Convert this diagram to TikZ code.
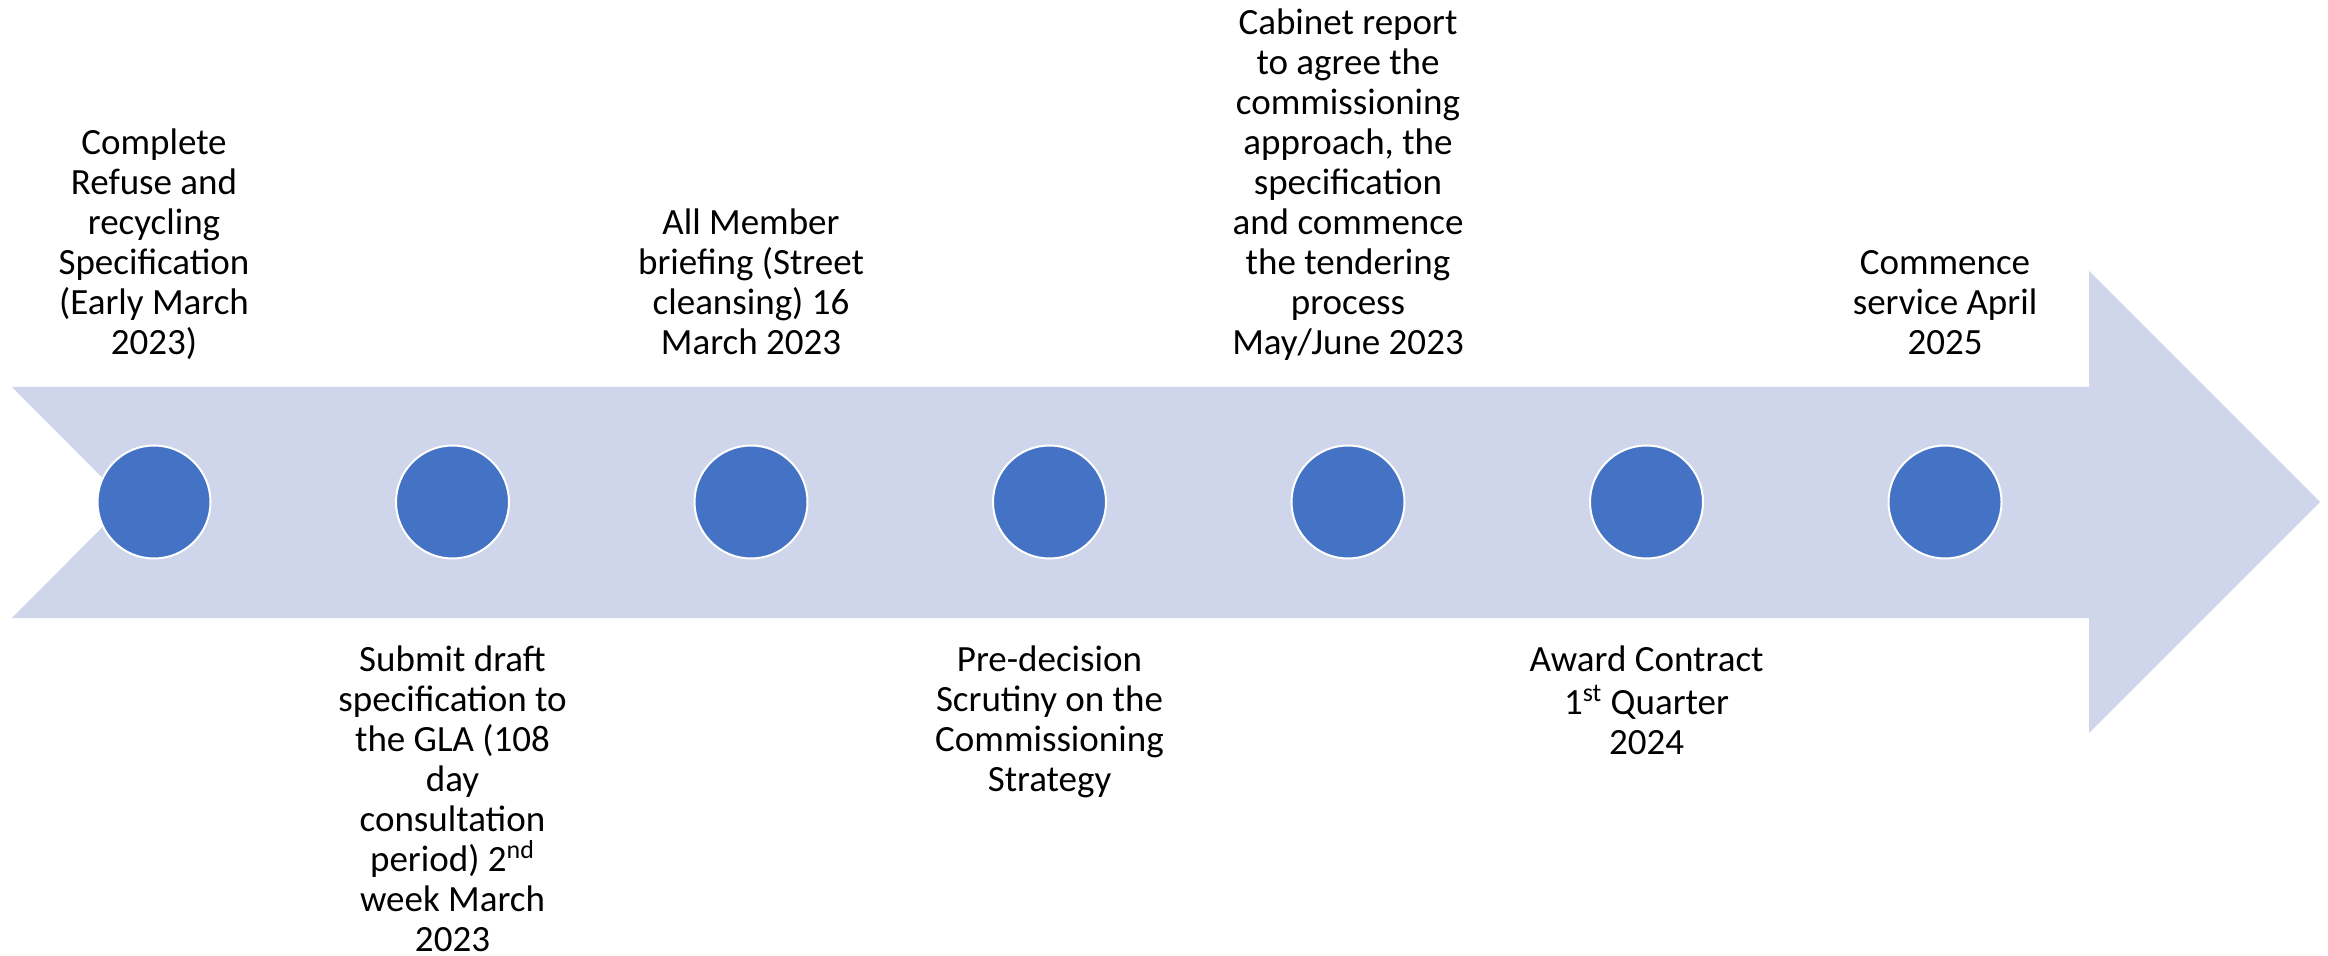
\documentclass[tikz,border=0pt]{standalone}
\usepackage{fontspec}
\setmainfont{Carlito}
\definecolor{bandcol}{RGB}{207,213,234}
\definecolor{dotcol}{RGB}{68,114,196}
\begin{document}
\begin{tikzpicture}[x=0.5pt,y=-0.5pt,
  dot/.style={circle,fill=dotcol,draw=white,line width=1pt,minimum size=56.5pt,inner sep=0pt},
  uplabel/.style={anchor=south,align=center,inner sep=0pt,font=\fontsize{18.5pt}{20pt}\selectfont},
  downlabel/.style={anchor=north,align=center,inner sep=0pt,font=\fontsize{18.5pt}{20pt}\selectfont}]
		%%
  \useasboundingbox (0,0) rectangle (2328,956);
  \fill [bandcol] (12,387) -- (2089,387) -- (2089,271) -- (2320,502) -- (2089,733) -- (2089,618) -- (12,618) -- (127,502.5) -- cycle;
  \node (M1) at (154,502) [dot] {};
  \node (M2) at (452.5,502) [dot] {};
  \node (M3) at (751,502) [dot] {};
  \node (M4) at (1049.5,502) [dot] {};
  \node (M5) at (1348,502) [dot] {};
  \node (M6) at (1646.5,502) [dot] {};
  \node (M7) at (1945,502) [dot] {};
  \node (Spec) at (154,367) [uplabel] {Complete\\Refuse and\\recycling\\Specification\\(Early March\\2023)\strut};
  \node (GLA) at (452.5,643) [downlabel] {\strut Submit draft\\specification to\\the GLA (108\\day\\consultation\\period) 2\textsuperscript{nd}\\week March\\2023};
  \node (Brief) at (751,367) [uplabel] {All Member\\briefing (Street\\cleansing) 16\\March 2023\strut};
  \node (Scrutiny) at (1049.5,643) [downlabel] {\strut Pre-decision\\Scrutiny on the\\Commissioning\\Strategy};
  \node (Cabinet) at (1348,367) [uplabel] {Cabinet report\\to agree the\\commissioning\\approach, the\\specification\\and commence\\the tendering\\process\\May/June 2023\strut};
  \node (Award) at (1646.5,643) [downlabel] {\strut Award Contract\\1\textsuperscript{st} Quarter\\2024};
  \node (Service) at (1945,367) [uplabel] {Commence\\service April\\2025\strut};
		%
\end{tikzpicture}
\end{document}
